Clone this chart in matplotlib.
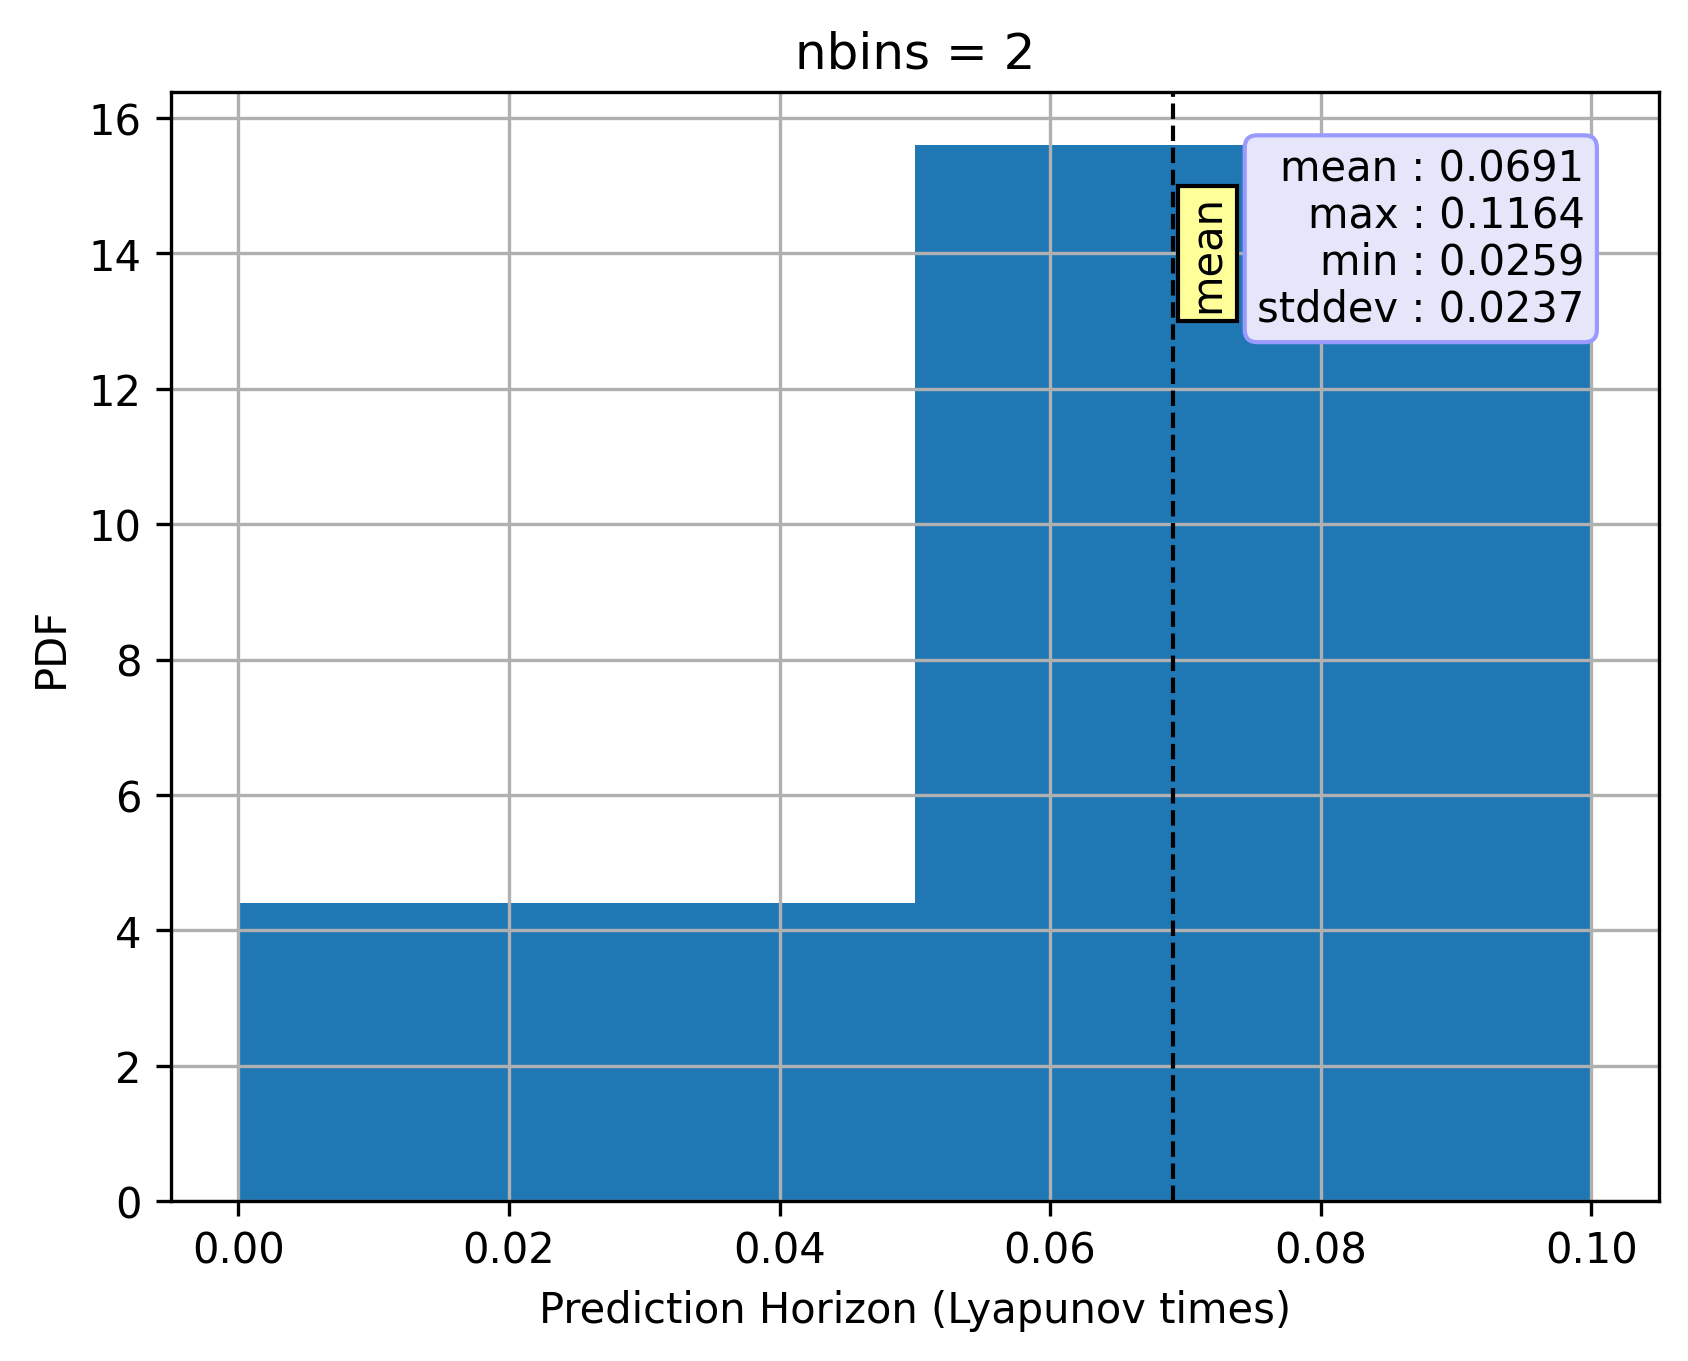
import numpy as np
import matplotlib
matplotlib.use('Agg')
import matplotlib.pyplot as plt

# histogram (density, 2 bins)
bin_edges = [0.0, 0.05, 0.10]
densities = [4.4, 15.6]

stat_names = ['mean', 'max', 'min', 'stddev']
stat_values = [0.0691, 0.1164, 0.0259, 0.0237]
mean_val = stat_values[0]

fig, ax = plt.subplots(figsize=(6.4, 4.8))
ax.hist(bin_edges[:-1], bins=bin_edges, weights=densities, color='#1f77b4')
ax.grid(True)
ax.axvline(mean_val, color='k', linestyle='--', linewidth=1)
ax.text(mean_val + 0.001, 14, 'mean', rotation=90, va='center', ha='left',
        bbox=dict(facecolor='#ffff99', edgecolor='k', pad=2))

stats_txt = '\n'.join('%s : %.4f' % (n, v) for n, v in zip(stat_names, stat_values))
ax.text(0.95, 0.95, stats_txt, transform=ax.transAxes, ha='right', va='top',
        linespacing=1.14,
        bbox=dict(boxstyle='round', facecolor=(0.9, 0.9, 0.98),
                  edgecolor=(0.6, 0.6, 1.0)))

ax.set_title('nbins = 2')
ax.set_xlabel('Prediction Horizon (Lyapunov times)')
ax.set_ylabel('PDF')

fig.savefig('out.png', dpi=300, bbox_inches='tight')
